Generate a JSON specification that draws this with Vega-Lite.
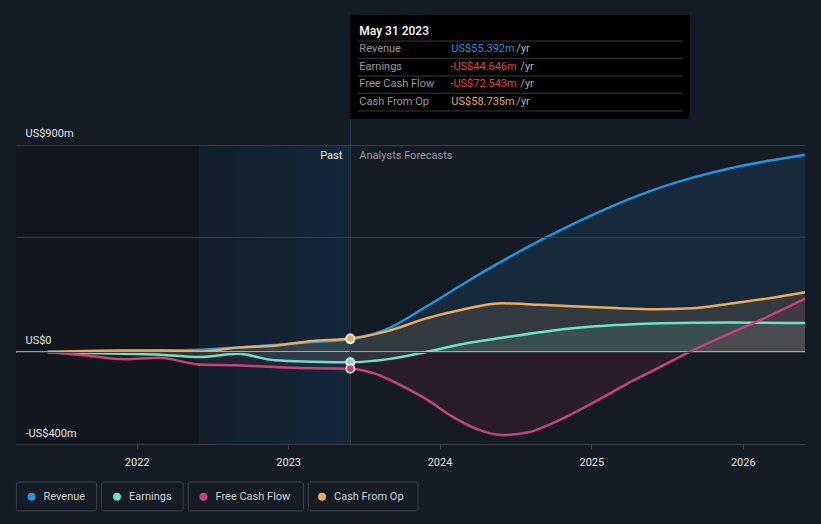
{
  "$schema": "https://vega.github.io/schema/vega-lite/v6.json",
  "width": 789,
  "height": 444,
  "autosize": {"type": "none"},
  "padding": {"left": 16, "top": 0, "right": 16, "bottom": 80},
  "background": "#151b24",
  "config": {"view": {"stroke": null}, "font": "Roboto"},
  "data": {"values": [{}]},
  "datasets": {
    "series": [
      {"date": "2021-05-31", "series": "Revenue", "value": 0},
      {"date": "2021-08-31", "series": "Revenue", "value": 1},
      {"date": "2021-11-30", "series": "Revenue", "value": 3},
      {"date": "2022-02-28", "series": "Revenue", "value": 5},
      {"date": "2022-05-31", "series": "Revenue", "value": 10},
      {"date": "2022-08-31", "series": "Revenue", "value": 20},
      {"date": "2022-11-30", "series": "Revenue", "value": 30},
      {"date": "2023-02-28", "series": "Revenue", "value": 43},
      {"date": "2023-05-31", "series": "Revenue", "value": 55.392},
      {"date": "2023-08-31", "series": "Revenue", "value": 103},
      {"date": "2023-11-30", "series": "Revenue", "value": 197},
      {"date": "2024-02-29", "series": "Revenue", "value": 298},
      {"date": "2024-05-31", "series": "Revenue", "value": 395},
      {"date": "2024-08-31", "series": "Revenue", "value": 485},
      {"date": "2024-11-30", "series": "Revenue", "value": 567},
      {"date": "2025-02-28", "series": "Revenue", "value": 640},
      {"date": "2025-05-31", "series": "Revenue", "value": 705},
      {"date": "2025-08-31", "series": "Revenue", "value": 757},
      {"date": "2025-11-30", "series": "Revenue", "value": 798},
      {"date": "2026-02-28", "series": "Revenue", "value": 830},
      {"date": "2026-05-31", "series": "Revenue", "value": 858},

      {"date": "2021-05-31", "series": "Earnings", "value": 0},
      {"date": "2021-08-31", "series": "Earnings", "value": -4},
      {"date": "2021-11-30", "series": "Earnings", "value": -8},
      {"date": "2022-02-28", "series": "Earnings", "value": -12},
      {"date": "2022-05-31", "series": "Earnings", "value": -22},
      {"date": "2022-08-31", "series": "Earnings", "value": -8},
      {"date": "2022-11-30", "series": "Earnings", "value": -36},
      {"date": "2023-02-28", "series": "Earnings", "value": -42},
      {"date": "2023-05-31", "series": "Earnings", "value": -44.646},
      {"date": "2023-08-31", "series": "Earnings", "value": -31},
      {"date": "2023-11-30", "series": "Earnings", "value": 0},
      {"date": "2024-02-29", "series": "Earnings", "value": 36},
      {"date": "2024-05-31", "series": "Earnings", "value": 62},
      {"date": "2024-08-31", "series": "Earnings", "value": 86},
      {"date": "2024-11-30", "series": "Earnings", "value": 105},
      {"date": "2025-02-28", "series": "Earnings", "value": 117},
      {"date": "2025-05-31", "series": "Earnings", "value": 124},
      {"date": "2025-08-31", "series": "Earnings", "value": 127},
      {"date": "2025-11-30", "series": "Earnings", "value": 128},
      {"date": "2026-02-28", "series": "Earnings", "value": 127},
      {"date": "2026-05-31", "series": "Earnings", "value": 126},

      {"date": "2021-05-31", "series": "Free Cash Flow", "value": 0},
      {"date": "2021-08-31", "series": "Free Cash Flow", "value": -15},
      {"date": "2021-12-01", "series": "Free Cash Flow", "value": -32},
      {"date": "2022-02-24", "series": "Free Cash Flow", "value": -25},
      {"date": "2022-05-31", "series": "Free Cash Flow", "value": -54},
      {"date": "2022-08-31", "series": "Free Cash Flow", "value": -58},
      {"date": "2022-11-30", "series": "Free Cash Flow", "value": -65},
      {"date": "2023-02-28", "series": "Free Cash Flow", "value": -71},
      {"date": "2023-05-31", "series": "Free Cash Flow", "value": -72.543},
      {"date": "2023-07-31", "series": "Free Cash Flow", "value": -95},
      {"date": "2023-09-30", "series": "Free Cash Flow", "value": -145},
      {"date": "2023-11-30", "series": "Free Cash Flow", "value": -205},
      {"date": "2024-01-31", "series": "Free Cash Flow", "value": -280},
      {"date": "2024-03-31", "series": "Free Cash Flow", "value": -335},
      {"date": "2024-06-01", "series": "Free Cash Flow", "value": -361},
      {"date": "2024-07-31", "series": "Free Cash Flow", "value": -350},
      {"date": "2024-09-30", "series": "Free Cash Flow", "value": -309},
      {"date": "2024-11-30", "series": "Free Cash Flow", "value": -255},
      {"date": "2025-01-31", "series": "Free Cash Flow", "value": -195},
      {"date": "2025-03-31", "series": "Free Cash Flow", "value": -135},
      {"date": "2025-05-31", "series": "Free Cash Flow", "value": -80},
      {"date": "2025-08-31", "series": "Free Cash Flow", "value": 5},
      {"date": "2025-11-30", "series": "Free Cash Flow", "value": 80},
      {"date": "2026-02-28", "series": "Free Cash Flow", "value": 152},
      {"date": "2026-05-31", "series": "Free Cash Flow", "value": 232},

      {"date": "2021-05-31", "series": "Cash From Op", "value": 0},
      {"date": "2021-08-31", "series": "Cash From Op", "value": 4},
      {"date": "2021-11-30", "series": "Cash From Op", "value": 6},
      {"date": "2022-02-28", "series": "Cash From Op", "value": 6},
      {"date": "2022-05-31", "series": "Cash From Op", "value": 2},
      {"date": "2022-08-31", "series": "Cash From Op", "value": 19},
      {"date": "2022-11-30", "series": "Cash From Op", "value": 27},
      {"date": "2023-02-28", "series": "Cash From Op", "value": 48},
      {"date": "2023-05-31", "series": "Cash From Op", "value": 58.735},
      {"date": "2023-08-31", "series": "Cash From Op", "value": 92},
      {"date": "2023-11-30", "series": "Cash From Op", "value": 146},
      {"date": "2024-02-29", "series": "Cash From Op", "value": 186},
      {"date": "2024-05-31", "series": "Cash From Op", "value": 212},
      {"date": "2024-08-31", "series": "Cash From Op", "value": 205},
      {"date": "2024-11-30", "series": "Cash From Op", "value": 198},
      {"date": "2025-02-28", "series": "Cash From Op", "value": 191},
      {"date": "2025-05-31", "series": "Cash From Op", "value": 186},
      {"date": "2025-08-31", "series": "Cash From Op", "value": 190},
      {"date": "2025-11-30", "series": "Cash From Op", "value": 210},
      {"date": "2026-02-28", "series": "Cash From Op", "value": 232},
      {"date": "2026-05-31", "series": "Cash From Op", "value": 260}
    ],
    "dots": [
      {"date": "2023-05-31", "series": "Revenue", "value": 55.392},
      {"date": "2023-05-31", "series": "Earnings", "value": -44.646},
      {"date": "2023-05-31", "series": "Free Cash Flow", "value": -72.543},
      {"date": "2023-05-31", "series": "Cash From Op", "value": 58.735}
    ]
  },
  "layer": [
    {
      "mark": {"type": "rect", "color": "#12161d"},
      "encoding": {
        "x": {"datum": {"year": 2021, "month": 3, "date": 16, "utc": true}, "type": "temporal",
              "scale": {"type": "utc", "nice": false, "domain": [{"year": 2021, "month": 3, "date": 16, "utc": true}, {"year": 2026, "month": 5, "date": 31, "utc": true}]},
              "axis": {"values": [{"year": 2022, "month": 1, "date": 1, "utc": true}, {"year": 2023, "month": 1, "date": 1, "utc": true}, {"year": 2024, "month": 1, "date": 1, "utc": true}, {"year": 2025, "month": 1, "date": 1, "utc": true}, {"year": 2026, "month": 1, "date": 1, "utc": true}],
                       "format": "%Y", "title": null, "grid": false, "domainColor": "#3a3f47", "tickColor": "#3a3f47", "tickSize": 5,
                       "labelColor": "#e6e6e6", "labelFontSize": 11, "labelFont": "Roboto", "labelPadding": 7, "labelFlush": false, "labelOverlap": false}},
        "x2": {"datum": {"year": 2022, "month": 5, "date": 31, "utc": true}},
        "y": {"datum": 900, "type": "quantitative",
              "scale": {"domain": [-400, 1530.4], "nice": false, "zero": false},
              "axis": {"values": [-400, 0, 500, 900],
                       "labelExpr": "datum.value == 900 ? 'US$900m' : datum.value == 0 ? 'US$0' : datum.value == -400 ? '-US$400m' : ''",
                       "title": null, "domain": false, "ticks": false, "tickSize": 0, "grid": true, "gridColor": "#363b43", "gridWidth": 1,
                       "labelAlign": "left", "labelBaseline": "bottom", "labelPadding": -9, "labelOffset": -6,
                       "labelColor": "#e6e6e6", "labelFontSize": 11, "labelFont": "Roboto", "labelFlush": false, "labelOverlap": false, "zindex": 1}},
        "y2": {"datum": -400}
      }
    },
    {
      "mark": {"type": "rect", "color": {"gradient": "linear", "x1": 0, "y1": 0, "x2": 1, "y2": 0,
        "stops": [{"offset": 0, "color": "#121e2b"}, {"offset": 1, "color": "#14283c"}]}},
      "encoding": {
        "x": {"datum": {"year": 2022, "month": 5, "date": 31, "utc": true}, "type": "temporal"},
        "x2": {"datum": {"year": 2023, "month": 5, "date": 31, "utc": true}},
        "y": {"datum": 900, "type": "quantitative"},
        "y2": {"datum": -400}
      }
    },
    {
      "data": {"name": "series"},
      "mark": {"type": "area", "opacity": 0.13, "interpolate": "monotone"},
      "encoding": {
        "x": {"field": "date", "type": "temporal"},
        "y": {"field": "value", "type": "quantitative", "stack": null},
        "y2": {"datum": 0},
        "fill": {"field": "series", "type": "nominal", "legend": null,
                 "scale": {"domain": ["Cash From Op", "Free Cash Flow", "Earnings", "Revenue"], "range": ["#e9ab5e", "#a8304a", "#6ce0c8", "#2394df"]}}
      }
    },
    {
      "mark": {"type": "rule", "color": "#c8c8c8", "strokeWidth": 1.5},
      "encoding": {"y": {"datum": 0, "type": "quantitative"}}
    },
    {
      "data": {"name": "series"},
      "mark": {"type": "line", "strokeWidth": 2.5, "interpolate": "monotone"},
      "encoding": {
        "x": {"field": "date", "type": "temporal"},
        "y": {"field": "value", "type": "quantitative"},
        "stroke": {"field": "series", "type": "nominal", "legend": null,
                   "scale": {"domain": ["Earnings", "Cash From Op", "Revenue", "Free Cash Flow"], "range": ["#6ce0c8", "#e9ab5e", "#2394df", "#c5437f"]}}
      }
    },
    {
      "mark": {"type": "rule", "color": "#2b3a4b", "strokeWidth": 1},
      "encoding": {
        "x": {"datum": {"year": 2023, "month": 5, "date": 31, "utc": true}, "type": "temporal"},
        "y": {"datum": 1013, "type": "quantitative"},
        "y2": {"datum": -400}
      }
    },
    {
      "data": {"name": "dots"},
      "mark": {"type": "point", "filled": true, "size": 70, "stroke": "#ffffff", "strokeWidth": 1.5, "opacity": 1},
      "encoding": {
        "x": {"field": "date", "type": "temporal"},
        "y": {"field": "value", "type": "quantitative"},
        "color": {"field": "series", "type": "nominal",
                  "scale": {"domain": ["Revenue", "Earnings", "Free Cash Flow", "Cash From Op"], "range": ["#2394df", "#6ce0c8", "#c5437f", "#e9ab5e"]},
                  "legend": {"title": null, "orient": "none", "legendX": 10, "legendY": 491, "direction": "horizontal",
                             "symbolType": "circle", "symbolSize": 64, "symbolStrokeWidth": 0, "symbolOpacity": 1,
                             "labelColor": "#cfd2d6", "labelFontSize": 11, "labelFont": "Roboto", "columnPadding": 25.5, "labelOffset": 6.5}}
      }
    },
    {
      "mark": {"type": "rect", "fill": null, "stroke": "#3c4048", "strokeWidth": 1, "cornerRadius": 2},
      "encoding": {
        "x": {"datum": {"year": 2021, "month": 3, "date": 17, "utc": true}, "type": "temporal"},
        "x2": {"datum": {"year": 2021, "month": 9, "date": 26, "utc": true}},
        "y": {"datum": -565, "type": "quantitative"},
        "y2": {"datum": -691}
      }
    },
    {
      "mark": {"type": "rect", "fill": null, "stroke": "#3c4048", "strokeWidth": 1, "cornerRadius": 2},
      "encoding": {
        "x": {"datum": {"year": 2021, "month": 10, "date": 8, "utc": true}, "type": "temporal"},
        "x2": {"datum": {"year": 2022, "month": 4, "date": 23, "utc": true}},
        "y": {"datum": -565, "type": "quantitative"},
        "y2": {"datum": -691}
      }
    },
    {
      "mark": {"type": "rect", "fill": null, "stroke": "#3c4048", "strokeWidth": 1, "cornerRadius": 2},
      "encoding": {
        "x": {"datum": {"year": 2022, "month": 5, "date": 5, "utc": true}, "type": "temporal"},
        "x2": {"datum": {"year": 2023, "month": 2, "date": 7, "utc": true}},
        "y": {"datum": -565, "type": "quantitative"},
        "y2": {"datum": -691}
      }
    },
    {
      "mark": {"type": "rect", "fill": null, "stroke": "#3c4048", "strokeWidth": 1, "cornerRadius": 2},
      "encoding": {
        "x": {"datum": {"year": 2023, "month": 2, "date": 19, "utc": true}, "type": "temporal"},
        "x2": {"datum": {"year": 2023, "month": 11, "date": 10, "utc": true}},
        "y": {"datum": -565, "type": "quantitative"},
        "y2": {"datum": -691}
      }
    },
    {
      "mark": {"type": "rect", "color": "#000000"},
      "encoding": {
        "x": {"datum": {"year": 2023, "month": 5, "date": 31, "utc": true}, "type": "temporal"},
        "x2": {"datum": {"year": 2025, "month": 8, "date": 26, "utc": true}},
        "y": {"datum": 1465, "type": "quantitative"},
        "y2": {"datum": 1013}
      }
    },
    {
      "mark": {"type": "rule", "color": "#3a3a3a", "strokeWidth": 1},
      "encoding": {
        "x": {"datum": {"year": 2023, "month": 6, "date": 19, "utc": true}, "type": "temporal"},
        "x2": {"datum": {"year": 2025, "month": 8, "date": 9, "utc": true}},
        "y": {"datum": 1352, "type": "quantitative"}
      }
    },
    {
      "mark": {"type": "rule", "color": "#3a3a3a", "strokeWidth": 1},
      "encoding": {
        "x": {"datum": {"year": 2023, "month": 6, "date": 19, "utc": true}, "type": "temporal"},
        "x2": {"datum": {"year": 2025, "month": 8, "date": 9, "utc": true}},
        "y": {"datum": 1277, "type": "quantitative"}
      }
    },
    {
      "mark": {"type": "rule", "color": "#3a3a3a", "strokeWidth": 1},
      "encoding": {
        "x": {"datum": {"year": 2023, "month": 6, "date": 19, "utc": true}, "type": "temporal"},
        "x2": {"datum": {"year": 2025, "month": 8, "date": 9, "utc": true}},
        "y": {"datum": 1200, "type": "quantitative"}
      }
    },
    {
      "mark": {"type": "rule", "color": "#3a3a3a", "strokeWidth": 1},
      "encoding": {
        "x": {"datum": {"year": 2023, "month": 6, "date": 19, "utc": true}, "type": "temporal"},
        "x2": {"datum": {"year": 2025, "month": 8, "date": 9, "utc": true}},
        "y": {"datum": 1125, "type": "quantitative"}
      }
    },
    {
      "mark": {"type": "rule", "color": "#3a3a3a", "strokeWidth": 1},
      "encoding": {
        "x": {"datum": {"year": 2023, "month": 6, "date": 19, "utc": true}, "type": "temporal"},
        "x2": {"datum": {"year": 2025, "month": 8, "date": 9, "utc": true}},
        "y": {"datum": 1048, "type": "quantitative"}
      }
    },
    {
      "encoding": {
        "x": {"datum": {"year": 2023, "month": 5, "date": 31, "utc": true}, "type": "temporal"},
        "y": {"datum": 1397, "type": "quantitative"}
      },
      "layer": [
        {"mark": {"type": "text", "text": "May 31 2023", "align": "left", "baseline": "middle", "dx": 9, "fontSize": 12, "fontWeight": 500, "color": "#ffffff"}}
      ]
    },
    {
      "encoding": {
        "x": {"datum": {"year": 2023, "month": 5, "date": 31, "utc": true}, "type": "temporal"},
        "y": {"datum": 1317.4, "type": "quantitative"}
      },
      "layer": [
        {"mark": {"type": "text", "text": "Revenue", "align": "left", "baseline": "middle", "dx": 9, "fontSize": 11, "color": "#9a9a9a"}},
        {"mark": {"type": "text", "text": "US$55.392m", "align": "left", "baseline": "middle", "dx": 101, "fontSize": 11, "color": "#2394df"}},
        {"mark": {"type": "text", "text": "/yr", "align": "left", "baseline": "middle", "dx": 166, "fontSize": 11, "color": "#b4b4b4"}}
      ]
    },
    {
      "encoding": {
        "x": {"datum": {"year": 2023, "month": 5, "date": 31, "utc": true}, "type": "temporal"},
        "y": {"datum": 1240.4, "type": "quantitative"}
      },
      "layer": [
        {"mark": {"type": "text", "text": "Earnings", "align": "left", "baseline": "middle", "dx": 9, "fontSize": 11, "color": "#9a9a9a"}},
        {"mark": {"type": "text", "text": "-US$44.646m", "align": "left", "baseline": "middle", "dx": 100, "fontSize": 11, "color": "#e8403c"}},
        {"mark": {"type": "text", "text": "/yr", "align": "left", "baseline": "middle", "dx": 170, "fontSize": 11, "color": "#b4b4b4"}}
      ]
    },
    {
      "encoding": {
        "x": {"datum": {"year": 2023, "month": 5, "date": 31, "utc": true}, "type": "temporal"},
        "y": {"datum": 1163.9, "type": "quantitative"}
      },
      "layer": [
        {"mark": {"type": "text", "text": "Free Cash Flow", "align": "left", "baseline": "middle", "dx": 9, "fontSize": 11, "color": "#9a9a9a"}},
        {"mark": {"type": "text", "text": "-US$72.543m", "align": "left", "baseline": "middle", "dx": 100, "fontSize": 11, "color": "#e8403c"}},
        {"mark": {"type": "text", "text": "/yr", "align": "left", "baseline": "middle", "dx": 170, "fontSize": 11, "color": "#b4b4b4"}}
      ]
    },
    {
      "encoding": {
        "x": {"datum": {"year": 2023, "month": 5, "date": 31, "utc": true}, "type": "temporal"},
        "y": {"datum": 1088.3, "type": "quantitative"}
      },
      "layer": [
        {"mark": {"type": "text", "text": "Cash From Op", "align": "left", "baseline": "middle", "dx": 9, "fontSize": 11, "color": "#9a9a9a"}},
        {"mark": {"type": "text", "text": "US$58.735m", "align": "left", "baseline": "middle", "dx": 101, "fontSize": 11, "color": "#e9ab5e"}},
        {"mark": {"type": "text", "text": "/yr", "align": "left", "baseline": "middle", "dx": 166, "fontSize": 11, "color": "#b4b4b4"}}
      ]
    },
    {
      "encoding": {
        "x": {"datum": {"year": 2023, "month": 5, "date": 31, "utc": true}, "type": "temporal"},
        "y": {"datum": 852, "type": "quantitative"}
      },
      "layer": [
        {"mark": {"type": "text", "text": "Past", "align": "right", "baseline": "middle", "dx": -8, "fontSize": 11, "color": "#e6e6e6"}},
        {"mark": {"type": "text", "text": "Analysts Forecasts", "align": "left", "baseline": "middle", "dx": 9, "fontSize": 11, "color": "#9a9a9a"}}
      ]
    }
  ]
}
